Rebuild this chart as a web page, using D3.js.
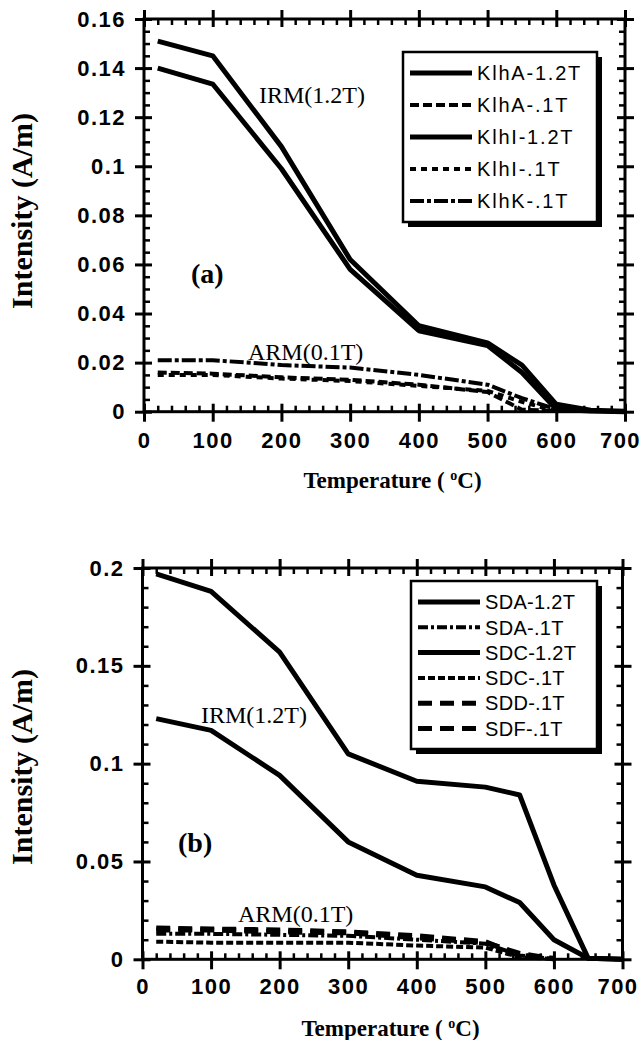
<!DOCTYPE html>
<html>
<head>
<meta charset="utf-8">
<script src="https://cdn.jsdelivr.net/npm/d3@7"></script>
<style>
  body { margin: 0; background: #fff; }
  .tick text { font-family: "Liberation Sans", Arial, sans-serif; font-weight: bold; font-size: 22px; letter-spacing: 1.5px; fill: #000; }
  .serif { font-family: "Liberation Serif", "Times New Roman", serif; fill: #000; }
  .legend-label { font-family: "Liberation Sans", Arial, sans-serif; font-size: 20px; fill: #000; }
</style>
</head>
<body>
<div id="chart"></div>
<script>
// temperatures (deg C) of the demagnetisation steps
const temps = [20, 100, 200, 300, 400, 500, 550, 600, 650, 700];

// panel (a) intensities, A/m
const klhA12 = [0.151, 0.145, 0.108, 0.062, 0.035, 0.028, 0.019, 0.003, 0.0006, 0.0002];
const klhA01 = [0.016, 0.0155, 0.014, 0.013, 0.011, 0.008, 0.0008, 0.0003, null, null];
const klhI12 = [0.140, 0.1335, 0.099, 0.058, 0.033, 0.027, 0.016, 0.001, 0.0003, 0];
const klhI01 = [0.015, 0.015, 0.0135, 0.0125, 0.0105, 0.0085, 0.004, 0.0002, null, null];
const klhK01 = [0.021, 0.021, 0.019, 0.018, 0.015, 0.011, 0.0055, 0.001, null, null];

// panel (b) intensities, A/m
const sda12 = [0.197, 0.188, 0.157, 0.105, 0.091, 0.088, 0.084, 0.038, 0.0005, 0];
const sda01 = [0.013, 0.013, 0.0125, 0.012, 0.010, 0.008, 0.002, 0.0002, null, null];
const sdc12 = [0.123, 0.117, 0.094, 0.060, 0.043, 0.037, 0.029, 0.010, 0.0005, 0];
const sdc01 = [0.009, 0.0085, 0.0085, 0.0085, 0.007, 0.006, 0.001, 0.0002, null, null];
const sdd01 = [0.016, 0.0155, 0.015, 0.014, 0.012, 0.009, 0.002, 0.0005, null, null];
const sdf01 = [0.015, 0.015, 0.014, 0.0135, 0.011, 0.0085, 0.003, 0.0002, null, null];

// axis ticks
const xTicks = [0, 100, 200, 300, 400, 500, 600, 700];
const yTicksA = [0, 0.02, 0.04, 0.06, 0.08, 0.1, 0.12, 0.14, 0.16];
const yTicksB = [0, 0.05, 0.1, 0.15, 0.2];

const seriesA = [
  { name: "KlhA-1.2T", values: klhA12, dash: null, width: 5 },
  { name: "KlhA-.1T", values: klhA01, dash: "9,4", width: 4 },
  { name: "KlhI-1.2T", values: klhI12, dash: null, width: 5 },
  { name: "KlhI-.1T", values: klhI01, dash: "6,5", width: 4 },
  { name: "KlhK-.1T", values: klhK01, dash: "14,3,4,3", width: 4 },
];

const seriesB = [
  { name: "SDA-1.2T", values: sda12, dash: null, width: 5 },
  { name: "SDA-.1T", values: sda01, dash: "10,3,3,3", width: 4 },
  { name: "SDC-1.2T", values: sdc12, dash: null, width: 5 },
  { name: "SDC-.1T", values: sdc01, dash: "7,3", width: 4 },
  { name: "SDD-.1T", values: sdd01, dash: "14,8", width: 5 },
  { name: "SDF-.1T", values: sdf01, dash: "14,8", width: 5 },
];

const svg = d3
  .select("#chart")
  .append("svg")
  .attr("width", 642)
  .attr("height", 1040);

drawPanel(svg, {
  series: seriesA,
  xRange: [144, 625],
  yRange: [411.7, 19],
  yMax: 0.16,
  yTicks: yTicksA,
  yMinorStep: 0.005,
  labelPad: 11,
  legend: { x: 403, y: 52, w: 194, h: 170, row0: 21, rowStep: 32, lineX: [7, 69], textX: 74, ls: 1.8 },
  notes: [
    { text: "IRM(1.2T)", x: 259, y: 103, bold: false },
    { text: "ARM(0.1T)", x: 248, y: 360, bold: false },
    { text: "(a)", x: 191, y: 283, bold: true },
  ],
  yTitleY: 211,
  xTitleY: 488,
});

drawPanel(svg, {
  series: seriesB,
  xRange: [142.5, 622.5],
  yRange: [959.3, 568],
  yMax: 0.2,
  yTicks: yTicksB,
  yMinorStep: 0.01,
  labelPad: 9,
  legend: { x: 411, y: 581, w: 186, h: 168, row0: 21, rowStep: 25.3, lineX: [7, 69], textX: 74, ls: 0.3 },
  notes: [
    { text: "IRM(1.2T)", x: 201, y: 723, bold: false },
    { text: "ARM(0.1T)", x: 238, y: 922, bold: false },
    { text: "(b)", x: 178, y: 852, bold: true },
  ],
  yTitleY: 767,
  xTitleY: 1036,
});

function drawPanel(svg, p) {
  const x = d3.scaleLinear().domain([0, 700]).range(p.xRange);
  const y = d3.scaleLinear().domain([0, p.yMax]).range(p.yRange);
  const g = svg.append("g");

  drawAxes(g, x, y, p);

  // curves
  const line = d3
    .line()
    .defined((d) => d.v != null)
    .x((d) => x(d.t))
    .y((d) => y(d.v));

  p.series.forEach((s) => {
    const pts = temps.map((t, i) => ({ t: t, v: s.values[i] }));
    g.append("path")
      .attr("d", line(pts))
      .attr("fill", "none")
      .attr("stroke", "#000")
      .attr("stroke-width", s.width)
      .attr("stroke-linejoin", "round")
      .attr("stroke-dasharray", s.dash);
  });

  drawLegend(g, p.series, p.legend);

  // text notes inside the plot
  p.notes.forEach((n) => {
    g.append("text")
      .attr("class", "serif")
      .attr("x", n.x)
      .attr("y", n.y)
      .style("font-size", n.bold ? "28px" : "24px")
      .style("font-weight", n.bold ? "bold" : "normal")
      .text(n.text);
  });

  // axis titles
  const [x0, x1] = p.xRange;
  g.append("text")
    .attr("class", "serif")
    .attr("transform", `translate(32,${p.yTitleY}) rotate(-90)`)
    .attr("text-anchor", "middle")
    .style("font-size", "30px")
    .style("font-weight", "bold")
    .text("Intensity (A/m)");

  const xt = g
    .append("text")
    .attr("class", "serif")
    .attr("x", (x0 + x1) / 2 + 8)
    .attr("y", p.xTitleY)
    .attr("text-anchor", "middle")
    .style("font-size", "23px")
    .style("font-weight", "bold");
  xt.append("tspan").text("Temperature ( ");
  xt.append("tspan").attr("dy", -8).style("font-size", "14px").text("o");
  xt.append("tspan").attr("dy", 8).text("C)");
}

function drawAxes(g, x, y, p) {
  const [x0, x1] = x.range();
  const [yb, yt] = y.range();
  const xMinor = d3.range(0, 701, 20).filter((d) => d % 100 !== 0);
  const yMinor = d3
    .range(0, p.yMax + 1e-9, p.yMinorStep)
    .filter((d) => !p.yTicks.some((t) => Math.abs(t - d) < 1e-9));
  const fmt = d3.format("~g");

  const add = (axis, tx, ty, width) => {
    const a = g
      .append("g")
      .attr("transform", `translate(${tx},${ty})`)
      .call(axis);
    a.select(".domain").remove();
    a.selectAll("line").attr("stroke-width", width);
    return a;
  };

  // outward major ticks with labels (bottom, left)
  const xa = add(d3.axisBottom(x).tickValues(xTicks).tickSize(10).tickPadding(p.labelPad).tickFormat((d) => d), 0, yb, 3);
  // last label sits against the page edge
  xa.selectAll("text").attr("dx", (d) => (d === 700 ? -5 : 0));
  add(d3.axisLeft(y).tickValues(p.yTicks).tickSize(9).tickPadding(9).tickFormat(fmt), x0, 0, 3);
  // outward major ticks, no labels (top, right)
  add(d3.axisTop(x).tickValues(xTicks).tickSize(9).tickFormat(""), 0, yt, 3);
  add(d3.axisRight(y).tickValues(p.yTicks).tickSize(9).tickFormat(""), x1, 0, 3);

  // inward major ticks
  add(d3.axisTop(x).tickValues(xTicks).tickSize(8).tickFormat(""), 0, yb, 3);
  add(d3.axisBottom(x).tickValues(xTicks).tickSize(8).tickFormat(""), 0, yt, 3);
  add(d3.axisRight(y).tickValues(p.yTicks).tickSize(8).tickFormat(""), x0, 0, 3);
  add(d3.axisLeft(y).tickValues(p.yTicks).tickSize(8).tickFormat(""), x1, 0, 3);

  // inward minor ticks
  add(d3.axisTop(x).tickValues(xMinor).tickSize(6).tickFormat(""), 0, yb, 2.5);
  add(d3.axisBottom(x).tickValues(xMinor).tickSize(6).tickFormat(""), 0, yt, 2.5);
  add(d3.axisRight(y).tickValues(yMinor).tickSize(6).tickFormat(""), x0, 0, 2.5);
  add(d3.axisLeft(y).tickValues(yMinor).tickSize(6).tickFormat(""), x1, 0, 2.5);

  g.append("rect")
    .attr("x", x0)
    .attr("y", yt)
    .attr("width", x1 - x0)
    .attr("height", yb - yt)
    .attr("fill", "none")
    .attr("stroke", "#000")
    .attr("stroke-width", 3);
}

function drawLegend(g, series, L) {
  const lg = g.append("g").attr("transform", `translate(${L.x},${L.y})`);

  // drop shadow then box
  lg.append("rect")
    .attr("x", 5)
    .attr("y", 5)
    .attr("width", L.w)
    .attr("height", L.h)
    .attr("fill", "#000");
  lg.append("rect")
    .attr("width", L.w)
    .attr("height", L.h)
    .attr("fill", "#fff")
    .attr("stroke", "#000")
    .attr("stroke-width", 2.5);

  const rows = lg
    .selectAll(".legend")
    .data(series)
    .enter()
    .append("g")
    .attr("class", "legend")
    .attr("transform", (d, i) => `translate(0,${L.row0 + i * L.rowStep})`);

  rows
    .append("line")
    .attr("x1", L.lineX[0])
    .attr("x2", L.lineX[1])
    .attr("stroke", "#000")
    .attr("stroke-width", (d) => d.width)
    .attr("stroke-dasharray", (d) => d.dash);

  rows
    .append("text")
    .attr("class", "legend-label")
    .attr("x", L.textX)
    .attr("dy", "0.36em")
    .style("letter-spacing", L.ls + "px")
    .text((d) => d.name);
}
</script>
</body>
</html>
